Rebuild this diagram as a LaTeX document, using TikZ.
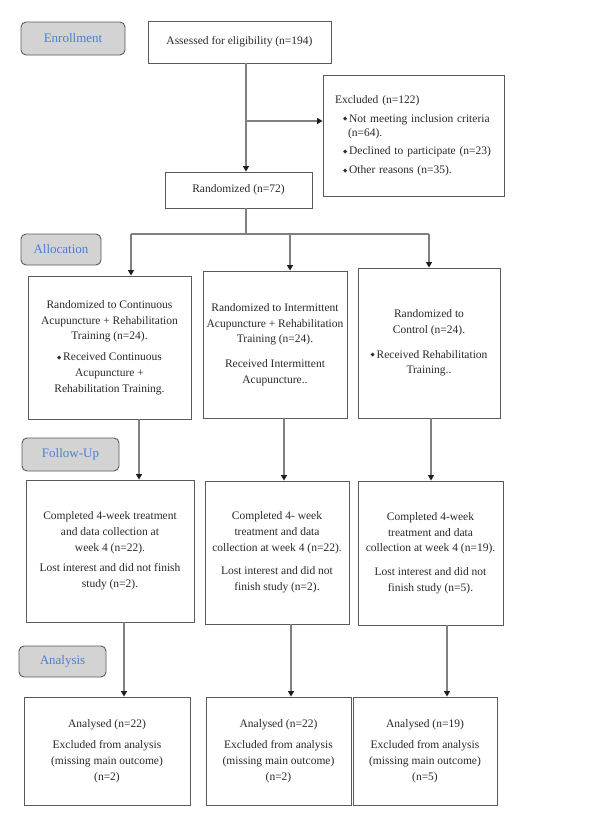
\documentclass[tikz,border=0pt]{standalone}
\usepackage{fontspec}
\setmainfont{Liberation Serif}
\newfontfamily\dejavu{DejaVu Sans}
\usetikzlibrary{arrows.meta}
\definecolor{boxc}{HTML}{5A5A5A}
\definecolor{linec}{HTML}{808080}
\definecolor{labfill}{HTML}{D3D3D3}
\definecolor{labblue}{HTML}{4F7FCF}
\definecolor{txt}{HTML}{2A2A2A}
\definecolor{tipc}{HTML}{1E1E1E}
\newcommand{\bul}{\raisebox{0.22ex}{\dejavu\fontsize{5.5}{5}\selectfont ◆}\,}
\tikzset{
  fbox/.style={draw=boxc, line width=0.9pt, fill=white, align=center, inner sep=0pt, text=txt,
    font=\fontsize{11.5}{15.7}\selectfont},
  lab/.style={draw=boxc, line width=0.9pt, fill=labfill, rounded corners=5pt, text=labblue,
    font=\fontsize{13}{15}\selectfont, inner sep=0pt},
  conn/.style={draw=linec, line width=1.1pt},
  arr/.style={conn, -{Triangle[length=5.5pt,width=6pt,color=tipc,fill=tipc]}},
}
\begin{document}
\begin{tikzpicture}[x=1pt,y=-1pt]
\useasboundingbox (0,0) rectangle (600,827);
% labels
\node[lab, minimum width=104pt, minimum height=33pt] (enr) at (73,38.5) {Enrollment};
\node[lab, minimum width=80pt, minimum height=31pt] (alloc) at (61,249.5) {Allocation};
\node[lab, minimum width=97pt, minimum height=33pt] (fol) at (70.5,454.5) {Follow-Up};
\node[lab, minimum width=87pt, minimum height=31pt] (ana) at (62.5,661.5) {Analysis};
% top
\node[fbox, minimum width=183pt, minimum height=42pt] (assess) at (239.5,42) {Assessed for eligibility (n=194)};
\node[fbox, minimum width=181pt, minimum height=121pt, text width=157pt, align=left, inner xsep=12pt] (excl) at (413.5,135.5)
 {Excluded (n=122)\\[3pt]
  \hspace*{8pt}\bul Not meeting inclusion criteria\\[-1pt]
  \hspace*{13pt}(n=64).\\[2pt]
  \hspace*{8pt}\bul Declined to participate (n=23)\\[3pt]
  \hspace*{8pt}\bul Other reasons (n=35).};
\node[fbox, minimum width=147pt, minimum height=36pt] (rand) at (238.5,190) {Randomized (n=72)};
% allocation
\node[fbox, minimum width=163pt, minimum height=143pt] (A1) at (109.5,347.5)
 {Randomized to Continuous\\Acupuncture + Rehabilitation\\Training (n=24).\\[5pt]
  \bul Received Continuous\\Acupuncture +\\Rehabilitation Training.};
\node[fbox, minimum width=144pt, minimum height=147pt] (A2) at (275,344.5)
 {Randomized to Intermittent\\Acupuncture + Rehabilitation\\Training (n=24).\\[9pt]
  Received Intermittent\\Acupuncture..};
\node[fbox, minimum width=142pt, minimum height=150pt] (A3) at (429,343)
 {Randomized to\\Control (n=24).\\[9pt]
  \bul Received Rehabilitation\\Training..};
% follow-up
\node[fbox, minimum width=168pt, minimum height=142pt] (F1) at (110,551)
 {Completed 4-week treatment\\and data collection at\\week 4 (n=22).\\[5pt]
  Lost interest and did not finish\\study (n=2).};
\node[fbox, minimum width=144pt, minimum height=143pt] (F2) at (277,552.5)
 {Completed 4- week\\treatment and data\\collection at week 4 (n=22).\\[8pt]
  Lost interest and did not\\finish study (n=2).};
\node[fbox, minimum width=145pt, minimum height=144pt] (F3) at (430.5,553)
 {Completed 4-week\\treatment and data\\collection at week 4 (n=19).\\[8pt]
  Lost interest and did not\\finish study (n=5).};
% analysis
\node[fbox, minimum width=166pt, minimum height=108pt] (B1) at (107,751)
 {Analysed (n=22)\\[6pt]Excluded from analysis\\(missing main outcome)\\(n=2)};
\node[fbox, minimum width=145pt, minimum height=108pt] (B2) at (278.5,751)
 {Analysed (n=22)\\[6pt]Excluded from analysis\\(missing main outcome)\\(n=2)};
\node[fbox, minimum width=144pt, minimum height=108pt] (B3) at (425,751)
 {Analysed (n=19)\\[6pt]Excluded from analysis\\(missing main outcome)\\(n=5)};
% connector coordinates
\coordinate (cm) at (246,0);
\coordinate (cb) at (0,121);
\coordinate (ch) at (0,234);
\coordinate (x1) at (131,0);
\coordinate (x2) at (290,0);
\coordinate (x3) at (429,0);
\coordinate (f1) at (139,0);
\coordinate (f2) at (284,0);
\coordinate (f3) at (431,0);
\coordinate (g1) at (124,0);
\coordinate (g2) at (291,0);
\coordinate (g3) at (447,0);
% connectors
\draw[arr] (assess.south -| cm) -- (rand.north -| cm);
\draw[arr] (cb -| cm) -- (cb -| excl.west);
\draw[conn] (rand.south -| cm) -- (ch -| cm);
\draw[conn] (ch -| x1) -- (ch -| x3);
\draw[arr] (ch -| x1) -- (A1.north -| x1);
\draw[arr] (ch -| x2) -- (A2.north -| x2);
\draw[arr] (ch -| x3) -- (A3.north -| x3);
\draw[arr] (A1.south -| f1) -- (F1.north -| f1);
\draw[arr] (A2.south -| f2) -- (F2.north -| f2);
\draw[arr] (A3.south -| f3) -- (F3.north -| f3);
\draw[arr] (F1.south -| g1) -- (B1.north -| g1);
\draw[arr] (F2.south -| g2) -- (B2.north -| g2);
\draw[arr] (F3.south -| g3) -- (B3.north -| g3);
\end{tikzpicture}
\end{document}
